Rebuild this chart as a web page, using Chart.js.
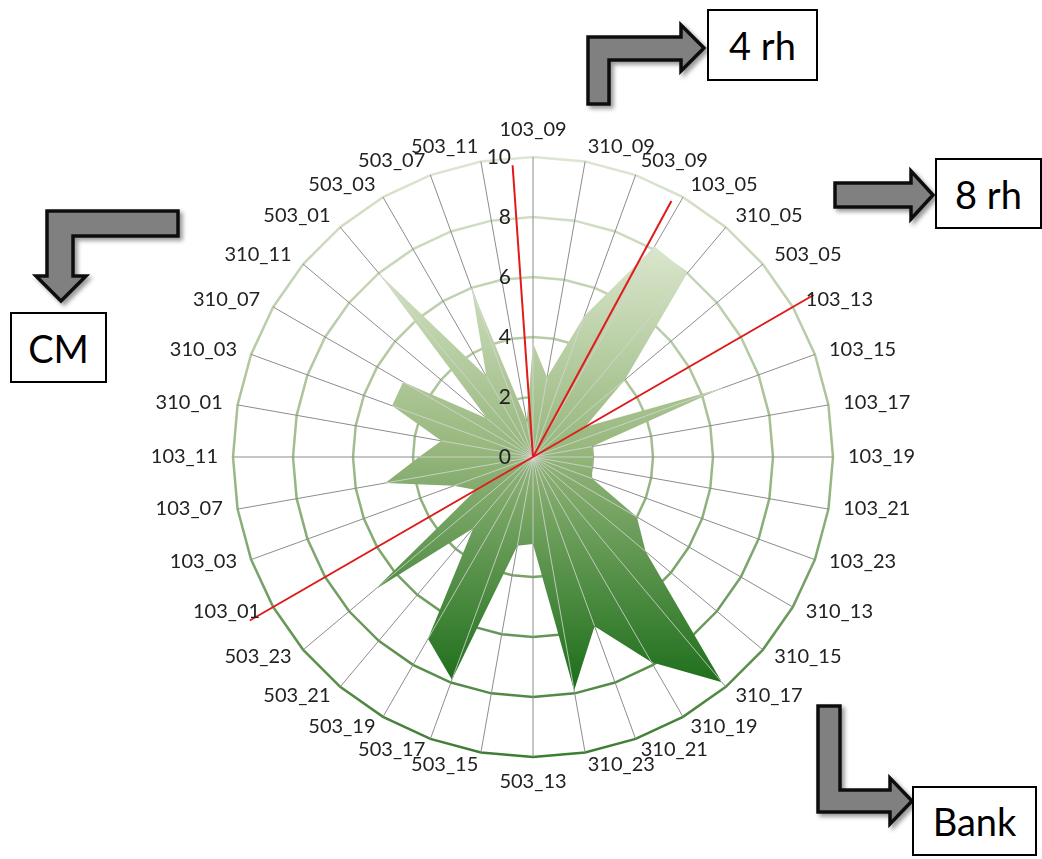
<!DOCTYPE html>
<html>
<head>
<meta charset="utf-8">
<script src="https://cdn.jsdelivr.net/npm/chart.js@4.4.1/dist/chart.umd.min.js"></script>
<style>
  html, body { margin: 0; padding: 0; background: #fff; }
  #wrap { position: relative; width: 1042px; height: 859px; overflow: hidden; }
  #chart, #arrows { position: absolute; left: 0; top: 0; }
  .box {
    position: absolute; box-sizing: border-box; border: 2px solid #000; background: #fff;
    font-family: Lato, "Open Sans", sans-serif; font-size: 38px; color: #000;
    display: flex; align-items: center; justify-content: center;
  }
</style>
</head>
<body>
<div id="wrap">
  <canvas id="chart" width="1042" height="859"></canvas>
  <svg id="arrows" width="1042" height="859">
    <defs>
      <filter id="sh" x="-30%" y="-30%" width="160%" height="160%">
        <feDropShadow dx="3" dy="3" stdDeviation="2" flood-color="#000" flood-opacity="0.4"/>
      </filter>
    </defs>
    <g fill="#808080" stroke="#111" stroke-width="3.5" filter="url(#sh)">
      <polygon points="588,104 588,37 681,37 681,25 704,48 681,71 681,60 609,60 609,104"/>
      <polygon points="835,183 911,183 911,171 933,195 911,219 911,207 835,207"/>
      <polygon points="47,211 178,211 178,236 73,236 73,276 86,276 61,301 36,276 47,276"/>
      <polygon points="818,706 840,706 840,790 890,790 890,778 912,801 890,824 890,812 818,812"/>
    </g>
  </svg>
  <div class="box" style="left:707px;top:9px;width:111px;height:72px">4 rh</div>
  <div class="box" style="left:935px;top:158px;width:107px;height:71px">8 rh</div>
  <div class="box" style="left:10px;top:312px;width:97px;height:71px">CM</div>
  <div class="box" style="left:912px;top:786px;width:125px;height:70px">Bank</div>
</div>
<script>
const categories = [
  "103_09", "310_09", "503_09", "103_05", "310_05", "503_05",
  "103_13", "103_15", "103_17", "103_19", "103_21", "103_23",
  "310_13", "310_15", "310_17", "310_19", "310_21", "310_23",
  "503_13", "503_15", "503_17", "503_19", "503_21", "503_23",
  "103_01", "103_03", "103_07", "103_11", "310_01", "310_03",
  "310_07", "310_11", "503_01", "503_03", "503_07", "503_11"
];
const values = [
  3.8, 2.7, 5.0, 8.1, 8.0, 4.0,
  2.0, 6.7, 2.0, 2.0, 2.0, 2.1,
  4.0, 4.9, 9.8, 7.9, 6.0, 7.9,
  2.9, 3.0, 7.9, 7.0, 3.1, 6.9,
  2.2, 2.8, 5.0, 3.8, 3.1, 5.0,
  5.0, 2.0, 8.0, 3.1, 6.0, 1.2
];
const tickValues = [0, 2, 4, 6, 8, 10];

// red marker rays: compass angle (deg, clockwise from top) and length in axis units
const markerAngles = [-4, 28.4, 60, 240];
const markerValues = [9.75, 9.7, 10.8, 10.9];

function ringGradient(chart) {
  const s = chart.scales.r;
  const g = chart.ctx.createLinearGradient(0, s.yCenter - s.drawingArea, 0, s.yCenter + s.drawingArea);
  g.addColorStop(0, "#dde6d2");
  g.addColorStop(0.5, "#9fbb8b");
  g.addColorStop(1, "#3d7c33");
  return g;
}

function fillGradient(chart) {
  const s = chart.scales.r;
  if (!s || !s.drawingArea) return "#98b87e";
  let top = Infinity, bottom = -Infinity;
  values.forEach((v, i) => {
    const p = s.getPointPositionForValue(i, v);
    top = Math.min(top, p.y);
    bottom = Math.max(bottom, p.y);
  });
  const g = chart.ctx.createLinearGradient(0, top, 0, bottom);
  g.addColorStop(0, "#dae6cc");
  g.addColorStop(0.45, "#98b87e");
  g.addColorStop(1, "#1b6d19");
  return g;
}

// spokes over the fill, red marker rays, Excel-style labels
const overlay = {
  id: "overlay",
  afterDatasetsDraw(chart) {
    const s = chart.scales.r;
    const ctx = chart.ctx;
    ctx.save();

    ctx.strokeStyle = "rgba(215,215,215,0.8)";
    ctx.lineWidth = 1;
    values.forEach((v, i) => {
      const p = s.getPointPositionForValue(i, v);
      ctx.beginPath();
      ctx.moveTo(s.xCenter, s.yCenter);
      ctx.lineTo(p.x, p.y);
      ctx.stroke();
    });

    ctx.strokeStyle = "#e01b1b";
    ctx.lineWidth = 2;
    markerAngles.forEach((a, i) => {
      const d = s.getDistanceFromCenterForValue(markerValues[i]);
      const rad = a * Math.PI / 180;
      ctx.beginPath();
      ctx.moveTo(s.xCenter, s.yCenter);
      ctx.lineTo(s.xCenter + d * Math.sin(rad), s.yCenter - d * Math.cos(rad));
      ctx.stroke();
    });

    ctx.font = "20px Lato";
    ctx.fillStyle = "#222";
    ctx.textBaseline = "middle";
    categories.forEach((c, i) => {
      const deg = i * 360 / categories.length;
      const p = s.getPointPositionForValue(i, 10.5);
      let y = p.y;
      if (deg === 0) { ctx.textAlign = "center"; y -= 12; }
      else if (deg === 180) { ctx.textAlign = "center"; y += 10; }
      else {
        ctx.textAlign = deg < 180 ? "left" : "right";
        if (deg > 90 && deg < 270) y -= 3;
      }
      ctx.fillText(c, p.x, y);
    });

    ctx.font = "21px Lato";
    ctx.textAlign = "right";
    s.ticks.forEach(t => {
      ctx.fillText(String(t.value), s.xCenter - 22, s.yCenter - s.getDistanceFromCenterForValue(t.value));
    });
    ctx.restore();
  }
};

new Chart(document.getElementById("chart"), {
  type: "radar",
  data: {
    labels: categories,
    datasets: [{
      data: values,
      fill: true,
      backgroundColor: (c) => fillGradient(c.chart),
      borderWidth: 0,
      pointRadius: 0,
      pointHoverRadius: 0,
      tension: 0
    }]
  },
  options: {
    responsive: false,
    animation: false,
    layout: { padding: { left: 233, top: 157, right: 209, bottom: 102 } },
    plugins: { legend: { display: false }, tooltip: { enabled: false } },
    scales: {
      r: {
        min: 0,
        max: 10,
        afterBuildTicks: (scale) => { scale.ticks = tickValues.map(v => ({ value: v })); },
        ticks: { display: false },
        pointLabels: { display: false },
        angleLines: { color: "#8c8c8c", lineWidth: 1 },
        grid: { color: (c) => ringGradient(c.chart), lineWidth: 2.5 }
      }
    }
  },
  plugins: [overlay]
});
</script>
</body>
</html>
